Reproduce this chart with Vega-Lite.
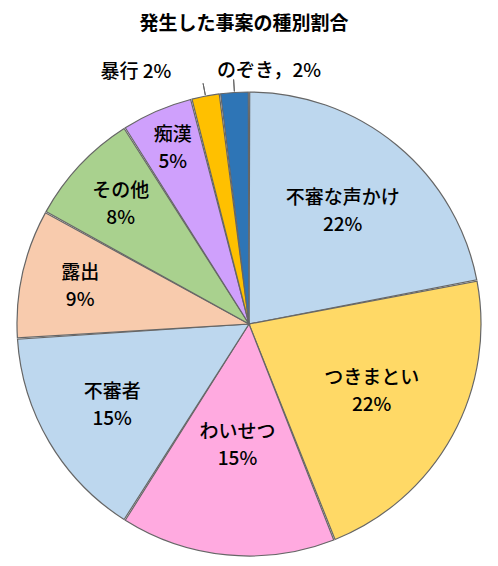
{
  "$schema": "https://vega.github.io/schema/vega-lite/v6.json",
  "width": 498,
  "height": 484,
  "autosize": "none",
  "padding": {"top": 82, "left": 0, "right": 0, "bottom": 0},
  "background": "white",
  "title": {
    "text": "発生した事案の種別割合",
    "font": "Noto Sans CJK JP",
    "fontSize": 19,
    "fontWeight": "bold",
    "color": "#000000",
    "anchor": "middle",
    "offset": 28,
    "dx": -5
  },
  "config": {"view": {"stroke": null}},
  "data": {
    "values": [
      {"category": "不審な声かけ", "value": 0.22},
      {"category": "つきまとい", "value": 0.22},
      {"category": "わいせつ", "value": 0.15},
      {"category": "不審者", "value": 0.15},
      {"category": "露出", "value": 0.09},
      {"category": "その他", "value": 0.08},
      {"category": "痴漢", "value": 0.05},
      {"category": "暴行", "value": 0.02},
      {"category": "のぞき", "value": 0.02}
    ]
  },
  "transform": [
    {"window": [{"op": "row_number", "as": "idx"}]},
    {"stack": "value", "sort": [{"field": "idx"}], "as": ["v0", "v1"]},
    {"calculate": "(datum.v0 + datum.v1) / 2", "as": "mid"},
    {"calculate": "format(datum.value, '.0%')", "as": "pct"}
  ],
  "layer": [
    {
      "mark": {"type": "arc", "outerRadius": 232, "stroke": "#666666", "strokeWidth": 1.2, "padAngle": 0.006},
      "encoding": {
        "theta": {"field": "v0", "type": "quantitative", "scale": {"domain": [0, 1]}},
        "theta2": {"field": "v1"},
        "color": {
          "field": "category",
          "type": "nominal",
          "legend": null,
          "scale": {
            "domain": ["不審な声かけ", "つきまとい", "わいせつ", "不審者", "露出", "その他", "痴漢", "暴行", "のぞき"],
            "range": ["#BDD7EE", "#FFD966", "#FFAAE0", "#BDD7EE", "#F8CBAD", "#A9D18E", "#CFA0FC", "#FFC000", "#2E75B6"]
          }
        }
      }
    },
    {
      "transform": [{"filter": "datum.value >= 0.05"}, {"calculate": "datum.category + '\\n' + datum.pct", "as": "label"}],
      "mark": {
        "type": "text",
        "font": "Noto Sans CJK JP",
        "fontSize": 19,
        "fontWeight": 500,
        "color": "#000000",
        "lineBreak": "\n",
        "lineHeight": 27,
        "align": "center",
        "baseline": "middle",
        "dy": -13,
        "radius": {"expr": "datum.category === '不審な声かけ' ? 147 : datum.category === 'つきまとい' ? 140 : datum.category === 'わいせつ' ? 122 : datum.category === '不審者' ? 159 : datum.category === '露出' ? 173 : datum.category === 'その他' ? 176 : 192"}
      },
      "encoding": {
        "theta": {"field": "mid", "type": "quantitative"},
        "text": {"field": "label"}
      }
    },
    {
      "transform": [{"filter": "datum.value < 0.05"}, {"calculate": "datum.category === 'のぞき' ? datum.category + '，' + datum.pct : datum.category + ' ' + datum.pct", "as": "label"}],
      "mark": {
        "type": "text",
        "font": "Noto Sans CJK JP",
        "fontSize": 19,
        "fontWeight": 500,
        "color": "#000000",
        "align": "center",
        "baseline": "middle",
        "radius": {"expr": "datum.category === 'のぞき' ? 254 : 262"},
        "dx": {"expr": "datum.category === 'のぞき' ? 36 : -64"},
        "dy": {"expr": "datum.category === 'のぞき' ? 0 : 5"}
      },
      "encoding": {
        "theta": {"field": "mid", "type": "quantitative"},
        "text": {"field": "label"}
      }
    },
    {
      "transform": [{"filter": "datum.value < 0.05"}],
      "mark": {"type": "arc", "innerRadius": 233, "outerRadius": 245, "stroke": "#666666", "strokeWidth": 1, "fill": null},
      "encoding": {
        "theta": {"field": "mid", "type": "quantitative"},
        "theta2": {"field": "mid"}
      }
    }
  ]
}
